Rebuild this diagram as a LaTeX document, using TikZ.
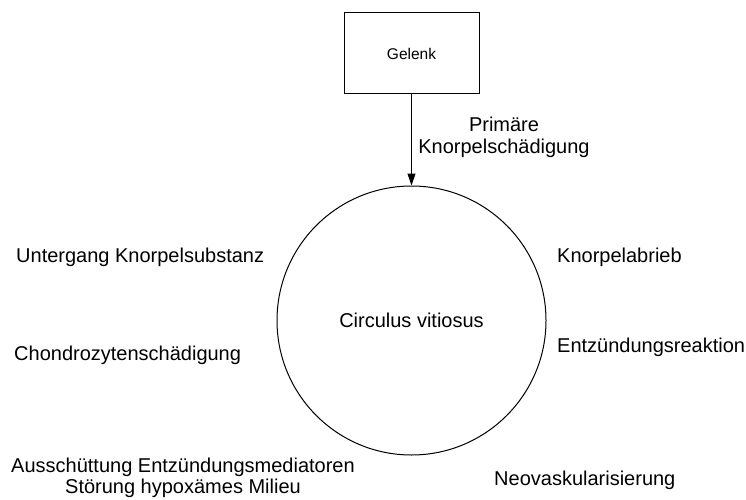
\documentclass[tikz,border=0pt]{standalone}
\usepackage{fontspec}
\setmainfont{Liberation Sans}
\usetikzlibrary{arrows.meta}
\begin{document}
\begin{tikzpicture}[x=1pt,y=-1pt,
  lbl/.style={inner sep=0pt, font=\fontsize{20}{21}\selectfont},
  boxnode/.style={draw, line width=1pt, minimum width=135pt, minimum height=81pt, font=\fontsize{15.5}{18}\selectfont},
  ring/.style={draw, circle, line width=1pt, minimum size=269pt, inner sep=0pt, font=\fontsize{20}{21}\selectfont},
  conn/.style={line width=1pt, -{Triangle[length=12pt,width=8pt]}}]
\useasboundingbox (0,0) rectangle (746,500);
\node[boxnode] (gelenk) at (411.5,53.5) {Gelenk};
\node[ring] (circ) at (411.5,320.5) {Circulus vitiosus};
\draw[conn] (gelenk) -- (circ);
\node[lbl, anchor=base, align=center] (prim) at (504,153) {Primäre\\Knorpelschädigung};
\node[lbl, anchor=base west] (unterg) at (16,262) {Untergang Knorpelsubstanz};
\node[lbl, anchor=base west] (chondro) at (14,360) {Chondrozytenschädigung};
\node[lbl, anchor=base west] (abrieb) at (557,262) {Knorpelabrieb};
\node[lbl, anchor=base west] (entz) at (557,352) {Entzündungsreaktion};
\node[lbl, anchor=base west] (neo) at (494,485) {Neovaskularisierung};
\node[lbl, anchor=base, align=center] (aus) at (183,493) {Ausschüttung Entzündungsmediatoren\\Störung hypoxämes Milieu};
\end{tikzpicture}
\end{document}
